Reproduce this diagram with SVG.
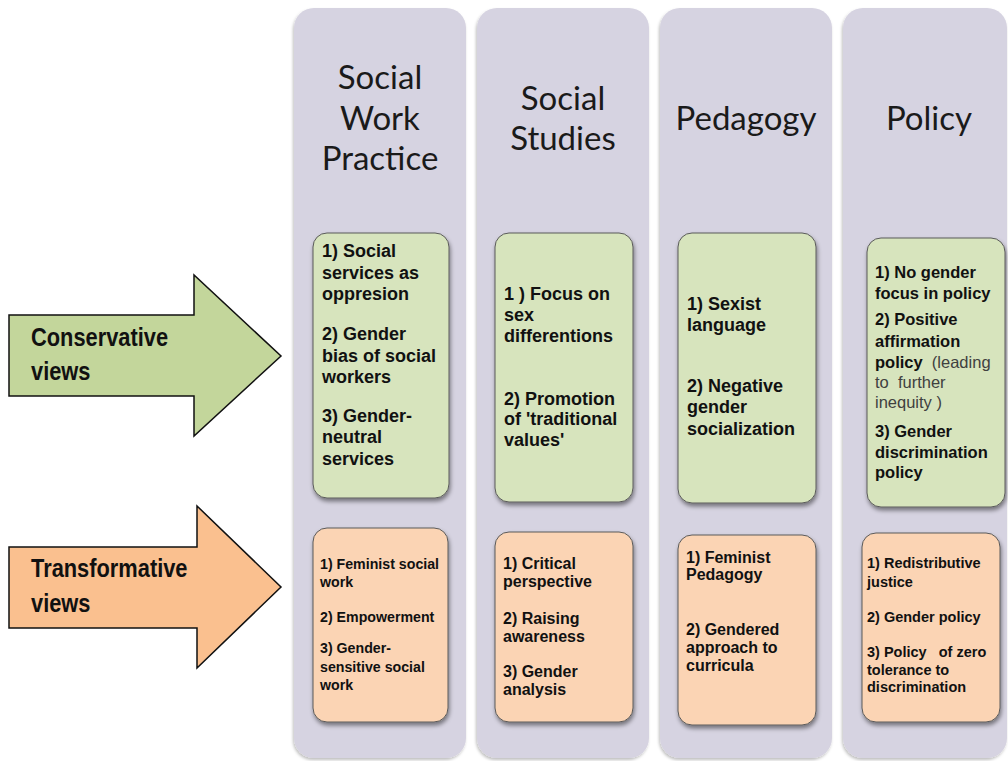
<svg xmlns="http://www.w3.org/2000/svg" width="1008" height="761" viewBox="0 0 1008 761">
<defs>
<filter id="colShadow" x="-10%" y="-5%" width="120%" height="110%">
<feDropShadow dx="-1" dy="2" stdDeviation="1.5" flood-color="#000" flood-opacity="0.25"/>
</filter>
<filter id="boxShadow" x="-10%" y="-10%" width="120%" height="125%">
<feDropShadow dx="1" dy="3" stdDeviation="2" flood-color="#000" flood-opacity="0.45"/>
</filter>
</defs>
<style>
.col{fill:#d6d3e1;filter:url(#colShadow)}
.head{font-family:Lato,"Open Sans",sans-serif;font-size:33px;fill:#1a1a1a;text-anchor:middle}
.green{fill:#d7e4bd;stroke:#5a5a5a;stroke-width:1;filter:url(#boxShadow)}
.orange{fill:#fbd4b4;stroke:#5a5a5a;stroke-width:1;filter:url(#boxShadow)}
.t{font-family:"Liberation Sans",Arial,sans-serif;font-weight:bold;fill:#111}
.n{font-weight:normal;fill:#404040}
.arrG{fill:#c3d69b;stroke:#111;stroke-width:1.5}
.arrO{fill:#fac08f;stroke:#111;stroke-width:1.5}
.lab{font-family:"Liberation Sans",Arial,sans-serif;font-weight:bold;font-size:26px;fill:#111}
</style>
<rect width="1008" height="761" fill="#ffffff"/>

<g id="col-social-work">
<rect class="col" x="294" y="8" width="172" height="750" rx="20"/>
<text class="head" x="380"><tspan x="380" y="89">Social</tspan><tspan x="380" y="130">Work</tspan><tspan x="380" y="170">Practice</tspan></text>
</g>
<g id="col-social-studies">
<rect class="col" x="477" y="8" width="172" height="750" rx="20"/>
<text class="head" x="563"><tspan x="563" y="110">Social</tspan><tspan x="563" y="150">Studies</tspan></text>
</g>
<g id="col-pedagogy">
<rect class="col" x="660" y="8" width="172" height="750" rx="20"/>
<text class="head" x="746" y="130">Pedagogy</text>
</g>
<g id="col-policy">
<rect class="col" x="843" y="8" width="164" height="750" rx="20"/>
<text class="head" x="929" y="130">Policy</text>
</g>

<g id="arrow-conservative">
<polygon class="arrG" points="9,315 194,315 194,275 281,356 194,436 194,396 9,396"/>
<text class="lab" transform="translate(31,346) scale(0.84,1)">Conservative</text>
<text class="lab" transform="translate(31,380) scale(0.84,1)">views</text>
</g>
<g id="arrow-transformative">
<polygon class="arrO" points="9,547 197,547 197,506 281,587 197,668 197,628 9,628"/>
<text class="lab" transform="translate(31,577) scale(0.84,1)">Transformative</text>
<text class="lab" transform="translate(31,612) scale(0.84,1)">views</text>
</g>

<g id="cons-social-work">
<rect class="green" x="313" y="233" width="136" height="265" rx="14"/>
<text class="t" font-size="18">
<tspan x="322" y="257">1) Social</tspan>
<tspan x="322" y="279">services as</tspan>
<tspan x="322" y="300">oppresion</tspan>
<tspan x="322" y="340">2) Gender</tspan>
<tspan x="322" y="362">bias of social</tspan>
<tspan x="322" y="383">workers</tspan>
<tspan x="322" y="422">3) Gender-</tspan>
<tspan x="322" y="443">neutral</tspan>
<tspan x="322" y="465">services</tspan>
</text>
</g>
<g id="cons-social-studies">
<rect class="green" x="495" y="233" width="138" height="269" rx="14"/>
<text class="t" font-size="18">
<tspan x="504" y="300">1 ) Focus on</tspan>
<tspan x="504" y="321">sex</tspan>
<tspan x="504" y="342">differentions</tspan>
<tspan x="504" y="405">2) Promotion</tspan>
<tspan x="504" y="425">of 'traditional</tspan>
<tspan x="504" y="446">values'</tspan>
</text>
</g>
<g id="cons-pedagogy">
<rect class="green" x="678" y="233" width="138" height="270" rx="14"/>
<text class="t" font-size="18">
<tspan x="687" y="310">1) Sexist</tspan>
<tspan x="687" y="331">language</tspan>
<tspan x="687" y="392">2) Negative</tspan>
<tspan x="687" y="413">gender</tspan>
<tspan x="687" y="435">socialization</tspan>
</text>
</g>
<g id="cons-policy">
<rect class="green" x="867" y="238" width="138" height="269" rx="14"/>
<text class="t" font-size="16.5">
<tspan x="875" y="278">1) No gender</tspan>
<tspan x="875" y="299">focus in policy</tspan>
<tspan x="875" y="325">2) Positive</tspan>
<tspan x="875" y="347">affirmation</tspan>
<tspan x="875" y="368">policy&#160; <tspan class="n">(leading</tspan></tspan>
<tspan class="n" x="875" y="388">to&#160; further</tspan>
<tspan class="n" x="875" y="408">inequity )</tspan>
<tspan x="875" y="437">3) Gender</tspan>
<tspan x="875" y="458">discrimination</tspan>
<tspan x="875" y="478">policy</tspan>
</text>
</g>

<g id="trans-social-work">
<rect class="orange" x="313" y="528" width="135" height="194" rx="14"/>
<text class="t" font-size="14.2">
<tspan x="320" y="569">1) Feminist social</tspan>
<tspan x="320" y="587">work</tspan>
<tspan x="320" y="622">2) Empowerment</tspan>
<tspan x="320" y="653">3) Gender-</tspan>
<tspan x="320" y="672">sensitive social</tspan>
<tspan x="320" y="690">work</tspan>
</text>
</g>
<g id="trans-social-studies">
<rect class="orange" x="495" y="532" width="138" height="190" rx="14"/>
<text class="t" font-size="16">
<tspan x="503" y="569">1) Critical</tspan>
<tspan x="503" y="587">perspective</tspan>
<tspan x="503" y="624">2) Raising</tspan>
<tspan x="503" y="642">awareness</tspan>
<tspan x="503" y="677">3) Gender</tspan>
<tspan x="503" y="695">analysis</tspan>
</text>
</g>
<g id="trans-pedagogy">
<rect class="orange" x="678" y="535" width="138" height="190" rx="14"/>
<text class="t" font-size="16">
<tspan x="686" y="563">1) Feminist</tspan>
<tspan x="686" y="580">Pedagogy</tspan>
<tspan x="686" y="635">2) Gendered</tspan>
<tspan x="686" y="653">approach to</tspan>
<tspan x="686" y="671">curricula</tspan>
</text>
</g>
<g id="trans-policy">
<rect class="orange" x="862" y="533" width="138" height="189" rx="14"/>
<text class="t" font-size="14.5">
<tspan x="867" y="568">1) Redistributive</tspan>
<tspan x="867" y="587">justice</tspan>
<tspan x="867" y="622">2) Gender policy</tspan>
<tspan x="867" y="657">3) Policy&#160;&#160; of zero</tspan>
<tspan x="867" y="675">tolerance to</tspan>
<tspan x="867" y="692">discrimination</tspan>
</text>
</g>

<g id="connectors"/>
</svg>
